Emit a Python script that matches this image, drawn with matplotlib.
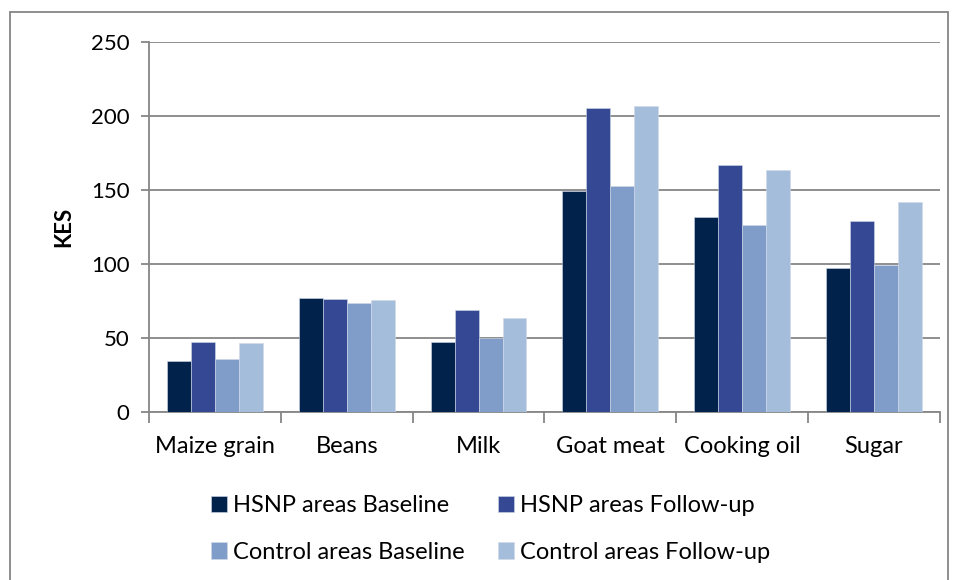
import matplotlib.pyplot as plt
import numpy as np
from matplotlib.patches import Rectangle

plt.rcParams["font.family"] = ["Lato", "DejaVu Sans"]

# ---- data (KES) -------------------------------------------------------------
categories = ["Maize grain", "Beans", "Milk", "Goat meat", "Cooking oil", "Sugar"]
series_names = [
    "HSNP areas Baseline",
    "HSNP areas Follow-up",
    "Control areas Baseline",
    "Control areas Follow-up",
]
hsnp_baseline = [34.5, 77, 47.5, 149, 131.5, 97.5]
hsnp_followup = [47, 76, 68.7, 205.6, 166.7, 128.8]
control_baseline = [35.8, 73.5, 50.3, 152.5, 126, 99]
control_followup = [46.3, 75.8, 63.6, 207, 163.5, 142]
colors = ["#00224B", "#344893", "#7F9DC8", "#A3BDDA"]

series = [hsnp_baseline, hsnp_followup, control_baseline, control_followup]

# ---- figure -----------------------------------------------------------------
fig = plt.figure(figsize=(9.59, 5.80), dpi=100)
ax = fig.add_axes([0.1554, 0.2897, 0.8246, 0.638])

x = np.arange(len(categories))
bar_w = 0.182
bars = []
for i, (vals, name, col) in enumerate(zip(series, series_names, colors)):
    b = ax.bar(x + (i - 1.5) * bar_w, vals, width=bar_w, color=col,
               edgecolor="#D0D8E8", linewidth=0.4, label=name, zorder=3)
    bars.append(b)

ax.set_xlim(-0.5, len(categories) - 0.5)
ax.set_ylim(0, 250)
ax.set_yticks(range(0, 251, 50))
ax.yaxis.grid(True, color="#868686", linewidth=1.3, zorder=0)

ax.set_xticks(x)
ax.set_xticklabels(categories, fontsize=17)
ax.set_xticks(np.arange(-0.5, len(categories), 1), minor=True)
ax.tick_params(axis="x", which="major", length=0, pad=17)
ax.tick_params(axis="x", which="minor", length=8, width=1.3, color="#868686")
ax.tick_params(axis="y", length=6, width=1.3, color="#868686", labelsize=16, pad=8)

for side in ["top", "right"]:
    ax.spines[side].set_visible(False)
for side in ["left", "bottom"]:
    ax.spines[side].set_color("#868686")
    ax.spines[side].set_linewidth(1.3)

ax.set_ylabel("KES", fontsize=16, fontweight="bold", labelpad=12)

# legend filled row by row (ncol=2 fills columns, so reorder)
order = [0, 2, 1, 3]
fig.legend([bars[i] for i in order], [series_names[i] for i in order],
           loc="upper left", bbox_to_anchor=(0.210, 0.162), ncol=2, frameon=False,
           fontsize=17, handlelength=0.68, handleheight=0.68, handletextpad=0.25,
           columnspacing=1.44, labelspacing=1.07, borderaxespad=0)

# outer chart border
fig.patches.append(Rectangle((0.0104, -0.05), 0.978, 1.029, transform=fig.transFigure,
                             fill=False, edgecolor="#868686", linewidth=1.3))

fig.savefig("out.png", dpi=100)
